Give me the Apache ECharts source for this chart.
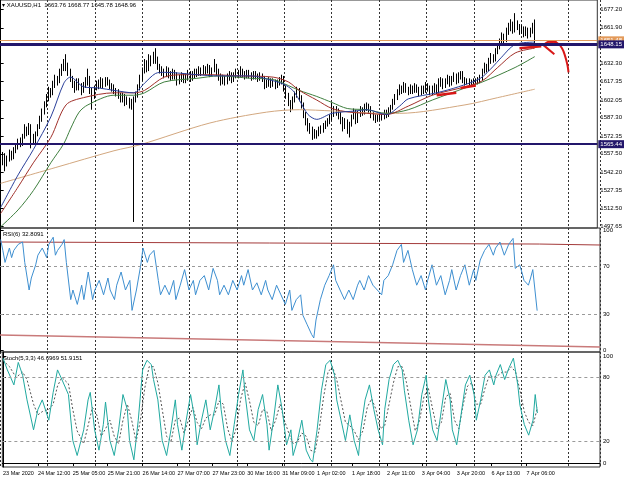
<!DOCTYPE html>
<html><head><meta charset="utf-8">
<script src="https://cdn.jsdelivr.net/npm/echarts@6/dist/echarts.min.js"></script>
<style>html,body{margin:0;padding:0;background:#fff}#c{width:625px;height:479px}</style>
</head><body><div id="c"></div>
<script>
// ---- tick labels ----
const timeLabels = ["23 Mar 2020","24 Mar 12:00","25 Mar 05:00","25 Mar 21:00","26 Mar 14:00","27 Mar 07:00","27 Mar 23:00","30 Mar 16:00","31 Mar 09:00","1 Apr 02:00","1 Apr 18:00","2 Apr 11:00","3 Apr 04:00","3 Apr 20:00","6 Apr 13:00","7 Apr 06:00"];
const barsPerLabel = 16;
const priceTicks = [1497.65,1512.50,1527.35,1542.20,1557.50,1572.35,1587.30,1602.05,1617.35,1632.30,1661.90,1677.20];
const rsiTicks = [0,30,70,100];
const stochTicks = [0,20,80,100];
const hLevels = {upper:1648.15, lower:1565.44, ask:1651.48};

// ---- OHLC bars [open, close, low, high], one per hour ----
const bars = [
[1556,1552,1545,1560],[1552,1556,1548,1559],[1556,1549,1543,1558],[1549,1553,1547,1556],[1553,1558,1551,1561],
[1558,1555,1552,1560],[1555,1560,1553,1563],[1560,1563,1558,1566],[1563,1568,1561,1570],[1568,1566,1563,1571],
[1566,1572,1564,1574],[1572,1578,1570,1582],[1578,1575,1572,1580],[1575,1580,1573,1583],[1580,1572,1562,1582],
[1572,1568,1565,1574],[1568,1574,1566,1576],[1574,1580,1572,1582],[1580,1586,1578,1589],[1586,1592,1584,1595],
[1592,1598,1590,1601],[1598,1604,1596,1607],[1604,1610,1601,1613],[1610,1608,1604,1612],[1608,1615,1606,1618],
[1615,1620,1612,1623],[1620,1618,1614,1622],[1618,1625,1616,1628],[1625,1629,1622,1632],[1629,1633,1626,1636],
[1633,1630,1626,1640],[1630,1626,1622,1633],[1626,1620,1617,1628],[1620,1616,1612,1622],[1616,1612,1608,1618],
[1612,1618,1610,1620],[1618,1614,1610,1620],[1614,1610,1606,1616],[1610,1615,1608,1617],[1615,1619,1612,1621],
[1619,1620,1614,1628],[1620,1610,1607,1622],[1610,1605,1594,1612],[1605,1612,1603,1614],[1612,1616,1610,1618],
[1616,1614,1611,1619],[1614,1618,1612,1621],[1618,1615,1612,1620],[1615,1619,1613,1621],[1619,1617,1614,1621],
[1617,1614,1611,1619],[1614,1612,1609,1616],[1612,1610,1607,1615],[1610,1608,1605,1612],[1608,1606,1603,1611],
[1606,1603,1600,1608],[1603,1605,1600,1608],[1605,1600,1597,1607],[1600,1602,1598,1605],[1602,1598,1595,1604],
[1598,1600,1594,1603],[1600,1603,1501,1605],[1603,1606,1600,1609],[1606,1612,1604,1615],[1612,1620,1610,1623],
[1620,1626,1618,1629],[1626,1632,1624,1636],[1632,1628,1625,1635],[1628,1636,1626,1640],[1636,1634,1630,1639],
[1634,1638,1632,1642],[1638,1636,1632,1645],[1636,1630,1627,1638],[1630,1628,1624,1632],[1628,1626,1622,1630],
[1626,1624,1620,1628],[1624,1627,1621,1630],[1627,1624,1620,1629],[1624,1622,1618,1626],[1622,1625,1619,1628],
[1625,1623,1619,1627],[1623,1618,1614,1625],[1618,1620,1615,1623],[1620,1622,1617,1625],[1622,1619,1616,1624],
[1619,1621,1616,1624],[1621,1624,1618,1627],[1624,1620,1617,1626],[1620,1623,1618,1626],[1623,1625,1620,1628],
[1625,1624,1621,1628],[1624,1627,1622,1630],[1627,1625,1622,1629],[1625,1628,1623,1631],[1628,1626,1623,1630],
[1626,1629,1624,1632],[1629,1624,1621,1631],[1624,1627,1622,1629],[1627,1630,1625,1636],[1630,1626,1622,1632],
[1626,1622,1618,1628],[1622,1618,1614,1624],[1618,1620,1615,1623],[1620,1617,1614,1622],[1617,1621,1615,1624],
[1621,1623,1618,1626],[1623,1619,1616,1625],[1619,1622,1617,1625],[1622,1625,1620,1628],[1625,1623,1620,1627],
[1623,1626,1621,1630],[1626,1624,1621,1628],[1624,1622,1619,1626],[1622,1625,1620,1627],[1625,1623,1620,1627],
[1623,1621,1618,1625],[1621,1624,1619,1626],[1624,1622,1619,1626],[1622,1620,1617,1624],[1620,1622,1618,1625],
[1622,1620,1617,1624],[1620,1614,1611,1622],[1614,1616,1612,1619],[1616,1618,1613,1621],[1618,1615,1612,1620],
[1615,1617,1613,1620],[1617,1614,1611,1619],[1614,1616,1612,1619],[1616,1618,1614,1621],[1618,1620,1615,1623],
[1620,1612,1609,1622],[1612,1606,1603,1614],[1606,1600,1597,1608],[1600,1596,1592,1602],[1596,1602,1594,1605],
[1602,1606,1600,1609],[1606,1610,1604,1613],[1610,1604,1601,1612],[1604,1598,1595,1606],[1598,1590,1587,1600],
[1590,1585,1581,1592],[1585,1580,1576,1587],[1580,1578,1574,1583],[1578,1575,1569,1580],[1575,1572,1570,1578],
[1572,1574,1570,1577],[1574,1578,1572,1580],[1578,1577,1574,1581],[1577,1580,1575,1583],[1580,1582,1578,1585],
[1582,1584,1580,1587],[1584,1587,1582,1590],[1587,1590,1585,1600],[1590,1594,1588,1597],[1594,1592,1589,1597],
[1592,1590,1586,1595],[1590,1586,1582,1592],[1586,1580,1576,1588],[1580,1584,1578,1587],[1584,1578,1574,1586],
[1578,1582,1571,1584],[1582,1588,1580,1590],[1588,1592,1586,1595],[1592,1585,1582,1594],[1585,1590,1583,1593],
[1590,1594,1588,1597],[1594,1592,1589,1596],[1592,1596,1590,1599],[1596,1597,1593,1600],[1597,1595,1591,1599],
[1595,1590,1587,1597],[1590,1588,1585,1592],[1588,1586,1583,1590],[1586,1587,1584,1590],[1587,1589,1585,1591],
[1589,1588,1585,1591],[1588,1592,1586,1594],[1592,1590,1587,1594],[1590,1593,1588,1596],[1593,1596,1591,1598],
[1596,1600,1594,1603],[1600,1604,1598,1607],[1604,1608,1602,1611],[1608,1612,1606,1615],[1612,1610,1607,1614],
[1610,1614,1608,1617],[1614,1611,1608,1616],[1611,1609,1606,1613],[1609,1612,1607,1615],[1612,1610,1607,1614],
[1610,1613,1608,1616],[1613,1611,1608,1615],[1611,1608,1605,1613],[1608,1612,1606,1614],[1612,1610,1607,1614],
[1610,1614,1608,1617],[1614,1612,1609,1616],[1612,1609,1606,1614],[1609,1611,1606,1614],[1611,1613,1608,1616],
[1613,1610,1607,1615],[1610,1615,1608,1620],[1615,1618,1613,1621],[1618,1614,1611,1620],[1614,1617,1612,1620],
[1617,1620,1615,1623],[1620,1616,1613,1622],[1616,1619,1614,1622],[1619,1622,1617,1625],[1622,1618,1615,1624],
[1618,1622,1616,1625],[1622,1624,1619,1626],[1624,1619,1616,1626],[1619,1617,1614,1621],[1617,1618,1615,1620],
[1618,1616,1614,1620],[1616,1617,1614,1619],[1617,1618,1615,1620],[1618,1617,1615,1620],[1617,1619,1615,1621],
[1619,1620,1616,1623],[1620,1626,1618,1628],[1626,1630,1624,1633],[1630,1628,1625,1632],[1628,1634,1626,1637],
[1634,1638,1632,1641],[1638,1636,1633,1640],[1636,1642,1634,1645],[1642,1646,1640,1649],[1646,1650,1644,1653],
[1650,1654,1648,1658],[1654,1652,1649,1657],[1652,1658,1650,1662],[1658,1662,1656,1666],[1662,1665,1659,1669],
[1665,1660,1657,1667],[1660,1666,1658,1674],[1666,1663,1660,1668],[1663,1659,1656,1665],[1659,1661,1657,1664],
[1661,1657,1654,1663],[1657,1660,1655,1663],[1660,1656,1653,1662],[1656,1659,1654,1662],[1659,1663.76,1657,1666],
[1663.76,1648.96,1645.78,1668.77]
];

// ---- moving averages: [bar, price] ----
const maFast = [[0,1513],[8,1540],[15,1561],[23,1588],[29,1616],[32,1621],[38,1613],[45,1612],[52,1610],[61,1608],[66,1616],[71,1624],[75,1625],[90,1623],[100,1622],[115,1622],[125,1618],[130,1615],[134,1610],[137,1602],[141,1590],[145,1586],[152,1591],[163,1593],[168,1594],[177,1590],[183,1597],[187,1603],[200,1608],[210,1613],[220,1620],[226,1630],[229,1636],[236,1648],[245,1650]];
const maMid = [[0,1508],[8,1530],[15,1550],[23,1571],[30,1598],[38,1604],[52,1608],[61,1608],[66,1610],[75,1621],[84,1623],[96,1623],[110,1622],[125,1621],[132,1617],[137,1610],[145,1602],[152,1595],[160,1592],[168,1591],[177,1590],[187,1597],[198,1606],[213,1613],[221,1618],[228,1629],[236,1641],[245,1645]];
const maSlow = [[0,1497],[8,1511],[15,1527],[23,1550],[29,1566],[32,1578],[36,1592],[40,1598],[52,1606],[61,1606],[66,1608],[75,1617],[90,1620],[100,1622],[115,1620],[125,1619],[132,1614],[137,1610],[145,1605],[152,1600],[159,1595],[168,1594],[177,1591],[187,1594],[198,1602],[213,1612],[221,1617],[236,1629],[245,1638]];
const ma200 = [[0,1533],[25,1546],[52,1560],[64,1565],[96,1583],[122,1592],[137,1594],[152,1593],[175,1591],[183,1591],[213,1598],[228,1604],[245,1611]];

// ---- hand-drawn red marks: [bar, price] ----
const markA = [[200,1606],[209,1608]];
const markB = [[211,1612],[218,1614]];
const markC = [[238,1645],[248,1646.5]];
const arrowCurve = [[249,1647.5],[252,1650.5],[255,1649.5],[257.5,1645],[259,1638],[260,1631],[260.5,1625]];
const arrowHead1 = [[249,1647.5],[255,1651]];
const arrowHead2 = [[249,1647.5],[254,1640]];

// ---- RSI(6): [bar, value] ----
const rsi = [[0,92],[1,83],[2,73],[4,85],[5,77],[6,83],[8,88],[10,90],[11,73],[13,50],[14,60],[16,71],[17,79],[19,85],[21,77],[22,88],[24,94],[25,79],[26,83],[28,88],[29,92],[30,73],[32,42],[33,50],[35,38],[37,54],[38,42],[40,65],[42,42],[43,50],[45,58],[47,46],[49,60],[50,50],[52,42],[53,54],[55,65],[57,50],[59,58],[60,33],[62,50],[64,71],[65,85],[67,73],[68,79],[70,83],[72,58],[73,46],[75,54],[77,46],[79,58],[80,42],[82,54],[84,67],[86,50],[88,58],[89,46],[91,58],[93,62],[95,50],[97,68],[99,58],[100,46],[102,54],[104,46],[106,58],[108,50],[110,62],[111,54],[113,67],[115,50],[117,56],[119,46],[121,58],[122,50],[124,42],[126,54],[128,46],[130,38],[132,50],[133,33],[135,42],[137,46],[138,29],[140,21],[142,13],[143,10],[144,25],[146,42],[148,54],[150,62],[152,71],[153,58],[155,50],[157,42],[159,50],[161,42],[163,54],[164,58],[166,50],[168,62],[170,54],[172,50],[174,46],[175,58],[177,62],[179,71],[181,83],[183,88],[184,73],[186,83],[188,67],[190,54],[192,62],[194,50],[195,58],[197,71],[199,54],[201,62],[203,46],[205,58],[206,67],[208,50],[210,62],[212,71],[214,54],[216,67],[217,58],[219,75],[221,83],[223,88],[225,79],[226,85],[228,90],[230,79],[232,88],[234,93],[235,68],[237,71],[238,65],[239,58],[241,54],[242,60],[243,67],[245,32.8]];
const rsiUpperTrend = [[-0.3,90],[246,88.3],[273.7,87.5]];
const rsiLowerTrend = [[-0.3,12.5],[246,3.5],[273.7,2.5]];

// ---- Stochastic(5,3,3): [bar, value] ----
const stochMain = [[0,98],[2,87],[5,73],[7,94],[9,82],[11,59],[14,31],[16,50],[18,59],[21,40],[23,66],[25,87],[27,78],[30,64],[32,21],[34,7],[37,31],[39,59],[40,66],[42,31],[44,12],[46,36],[47,57],[49,21],[51,7],[53,31],[55,64],[57,50],[58,21],[60,3],[62,40],[64,87],[66,96],[68,92],[69,78],[71,59],[73,21],[75,7],[77,31],[79,59],[80,36],[82,12],[84,40],[86,64],[88,40],[89,17],[91,40],[93,59],[95,31],[97,50],[99,73],[100,50],[102,21],[104,7],[106,36],[108,64],[110,87],[111,64],[113,31],[115,21],[117,50],[119,64],[121,36],[122,12],[124,40],[126,73],[128,50],[130,17],[132,31],[133,7],[135,21],[137,40],[139,12],[141,3],[142,1],[144,31],[146,68],[148,92],[150,96],[152,82],[153,59],[155,40],[157,21],[159,45],[161,21],[163,7],[164,31],[166,59],[168,73],[170,50],[172,31],[174,17],[175,50],[177,78],[179,92],[181,96],[183,87],[184,68],[186,40],[188,17],[190,31],[192,64],[194,82],[195,59],[197,31],[199,21],[201,50],[203,78],[205,59],[206,31],[208,17],[210,45],[212,73],[214,82],[216,64],[217,40],[219,59],[221,82],[223,87],[225,73],[226,82],[228,92],[230,78],[232,89],[234,98],[236,73],[237,54],[239,36],[241,26],[243,40],[244,64],[245,46.7]];
const stochSignal = [[0,96],[3,90],[6,80],[9,85],[11,78],[14,55],[16,45],[18,48],[21,50],[23,55],[25,72],[27,80],[30,74],[32,50],[34,30],[37,18],[39,35],[41,52],[43,45],[45,25],[47,32],[49,40],[51,25],[53,18],[55,40],[57,55],[59,40],[61,20],[63,40],[65,70],[67,90],[69,90],[71,75],[73,50],[75,25],[77,20],[79,40],[81,42],[83,28],[85,40],[87,52],[89,38],[91,32],[93,42],[95,45],[97,45],[99,58],[101,55],[103,32],[105,20],[107,33],[109,60],[111,75],[113,58],[115,38],[117,35],[119,50],[121,48],[123,30],[125,40],[127,55],[129,40],[131,28],[133,18],[135,20],[137,28],[139,25],[141,12],[143,10],[145,32],[147,62],[149,85],[151,90],[153,78],[155,58],[157,38],[159,35],[161,30],[163,22],[165,30],[167,52],[169,60],[171,50],[173,32],[175,35],[177,55],[179,75],[181,90],[183,90],[185,75],[187,52],[189,30],[191,40],[193,62],[195,70],[197,50],[199,32],[201,38],[203,62],[205,65],[207,40],[209,32],[211,55],[213,72],[215,75],[217,55],[219,55],[221,70],[223,82],[225,80],[227,82],[229,85],[231,85],[233,90],[235,85],[237,68],[239,48],[241,38],[243,35],[245,51.9]];

// ---- chart ----
const X_MIN = -0.3, X_MAX = 273.7;
const FONT = 'Liberation Sans';
const candleData = bars.map((b, i) => [i, b[0], b[1], b[2], b[3]]);
const labelIdx = timeLabels.map((_, k) => k * barsPerLabel);
const navy = '#23166b';

function xAx(gi, showLabels) {
  return {
    type: 'value', gridIndex: gi, min: X_MIN, max: X_MAX,
    axisLine: {show: showLabels, lineStyle: {color: '#000'}},
    axisTick: {show: showLabels, customValues: labelIdx, length: 3, lineStyle: {color: '#000'}},
    axisLabel: showLabels ? {show: true, customValues: labelIdx, fontSize: 5.5, fontFamily: FONT, color: '#000', align: 'left', margin: 3,
      formatter: v => timeLabels[Math.round(v / barsPerLabel)] || ''} : {show: false},
    splitLine: {show: false}
  };
}
function yAx(gi, min, max, ticks, fmt) {
  return {
    type: 'value', gridIndex: gi, position: 'right', min: min, max: max,
    axisLine: {show: true, lineStyle: {color: '#000'}},
    axisTick: {show: true, customValues: ticks, length: 3, lineStyle: {color: '#000'}},
    axisLabel: {customValues: ticks, fontSize: 6, fontFamily: FONT, color: '#000', margin: 3, formatter: fmt},
    splitLine: {show: false}
  };
}
function line(data, xi, yi, color, w, extra) {
  return Object.assign({type: 'line', xAxisIndex: xi, yAxisIndex: yi, data: data, showSymbol: false, symbol: 'none',
    lineStyle: {color: color, width: w}, silent: true, animation: false}, extra || {});
}
const levelLine = (v) => ({yAxis: v, lineStyle: {color: '#9a9a9a', type: [3, 3], width: 1}, label: {show: false}});

const option = {
  backgroundColor: '#fff',
  animation: false,
  grid: [
    {left: 0, right: 25, top: 0, height: 228, show: true, borderColor: '#333', borderWidth: 1},
    {left: 0, right: 25, top: 228, height: 124, show: true, borderColor: '#333', borderWidth: 1},
    {left: 0, right: 25, top: 352, height: 115, show: true, borderColor: '#333', borderWidth: 1},
    {left: -38.2, right: 25, top: 0, height: 467, show: false}
  ],
  xAxis: [xAx(0, false), xAx(1, false), xAx(2, true),
    {type: 'value', gridIndex: 3, min: 0, max: 638.2, interval: 50.4, axisLine: {show: false}, axisTick: {show: false}, axisLabel: {show: false},
      splitLine: {show: true, lineStyle: {color: '#333', type: [2, 2], width: 1}}}],
  yAxis: [
    yAx(0, 1496.0, 1684.9, priceTicks, v => v.toFixed(2)),
    yAx(1, -1.67, 101.67, rsiTicks, v => String(v)),
    yAx(2, -3.74, 103.74, stochTicks, v => String(v)),
    {type: 'value', gridIndex: 3, min: 0, max: 1, show: false}
  ],
  graphic: [
    {type: 'text', left: 2, top: 2, style: {text: '\u25BE XAUUSD,H1  1663.76 1668.77 1645.78 1648.96', fontSize: 6, fontFamily: FONT, fill: '#000'}},
    {type: 'text', left: 3, top: 231, style: {text: 'RSI(6) 32.8091', fontSize: 6, fontFamily: FONT, fill: '#000'}},
    {type: 'text', left: 3, top: 355, style: {text: 'Stoch(5,3,3) 46.6969 51.9151', fontSize: 6, fontFamily: FONT, fill: '#000'}}
  ],
  series: [
    line(ma200, 0, 0, '#d2a77f', 1, {smooth: 0.3}),
    line(maSlow, 0, 0, '#3f7f3f', 1, {smooth: 0.3}),
    line(maMid, 0, 0, '#a0302a', 1, {smooth: 0.3}),
    line(maFast, 0, 0, '#2a3f9a', 1, {smooth: 0.3}),
    {
      type: 'candlestick', xAxisIndex: 0, yAxisIndex: 0, data: candleData,
      encode: {x: 0, y: [1, 2, 3, 4]}, barWidth: 1.2, silent: true,
      itemStyle: {color: '#fff', color0: '#000', borderColor: '#000', borderColor0: '#000', borderWidth: 1},
      markLine: {
        symbol: ['none', 'none'], silent: true, animation: false,
        data: [
          {yAxis: hLevels.ask, lineStyle: {color: '#e39a5a', width: 1, type: 'solid'},
            label: {position: 'end', distance: 1, formatter: p => p.value.toFixed(2), backgroundColor: '#e39a5a', color: '#fff', fontSize: 6, fontFamily: FONT, padding: [1, 2]}},
          {yAxis: hLevels.upper, lineStyle: {color: navy, width: 3, type: 'solid'},
            label: {position: 'end', distance: 1, formatter: p => p.value.toFixed(2), backgroundColor: navy, color: '#fff', fontSize: 6, fontFamily: FONT, padding: [1, 2]}},
          {yAxis: hLevels.lower, lineStyle: {color: navy, width: 2, type: 'solid'},
            label: {position: 'end', distance: 1, formatter: p => p.value.toFixed(2), backgroundColor: navy, color: '#fff', fontSize: 6, fontFamily: FONT, padding: [1, 2]}}
        ]
      }
    },
    line(markA, 0, 0, '#d81818', 2.5),
    line(markB, 0, 0, '#d81818', 2.5),
    line(markC, 0, 0, '#d81818', 2.5),
    line(arrowCurve, 0, 0, '#d81818', 2, {smooth: 0.4}),
    line(arrowHead1, 0, 0, '#d81818', 2),
    line(arrowHead2, 0, 0, '#d81818', 2),
    line(rsiUpperTrend, 1, 1, '#a33a3a', 1),
    line(rsiLowerTrend, 1, 1, '#c97a7a', 1.5),
    line(rsi, 1, 1, '#3e8fd0', 1, {markLine: {symbol: ['none', 'none'], silent: true, animation: false, data: [levelLine(70), levelLine(30)]}}),
    line(stochSignal, 2, 2, '#555', 1, {lineStyle: {color: '#555', width: 1, type: [2, 2]}}),
    line(stochMain, 2, 2, '#20a9a0', 1, {markLine: {symbol: ['none', 'none'], silent: true, animation: false, data: [levelLine(80), levelLine(20)]}})
  ]
};
const chart = echarts.init(document.getElementById('c'), null, {renderer: 'canvas'});
chart.setOption(option);
</script>
</body></html>
